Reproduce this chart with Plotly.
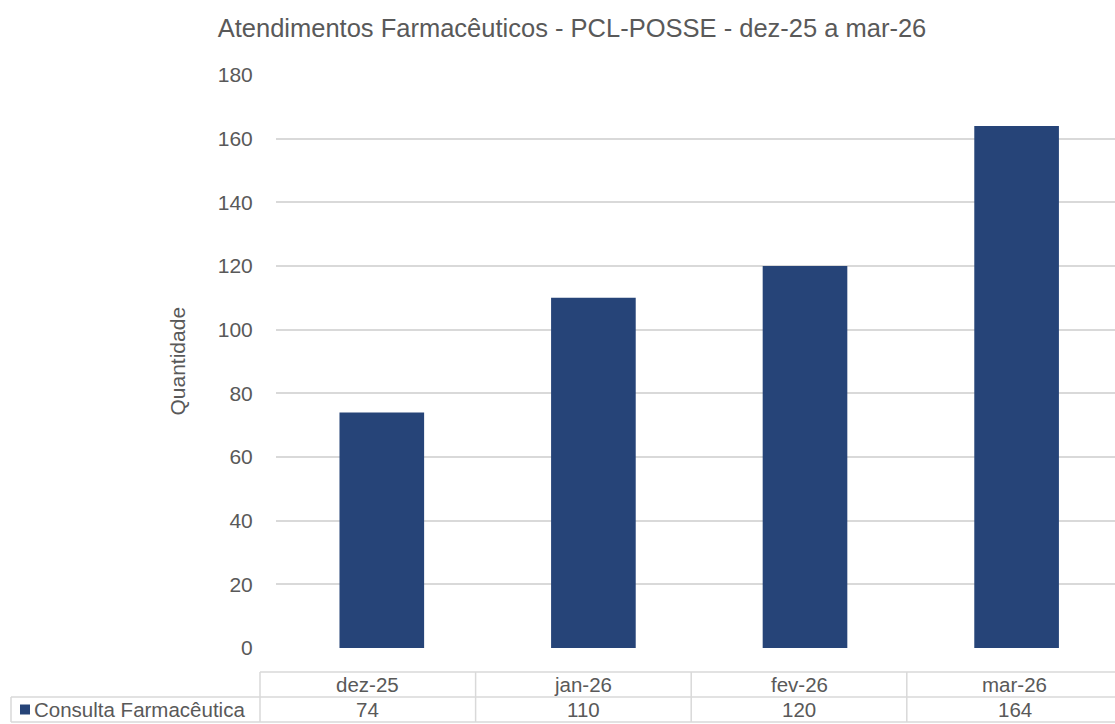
import plotly.graph_objects as go

# Monthly pharmaceutical consultations
categories = ["dez-25", "jan-26", "fev-26", "mar-26"]
series_name = "Consulta Farmacêutica"
values = [74, 110, 120, 164]
y_ticks = [0, 20, 40, 60, 80, 100, 120, 140, 160, 180]

W, H = 1115, 724
LEFT, RIGHT, TOP, BOTTOM = 276, 0, 75, 76
CAT_W = 211.6  # pixel width of one category slot
plot_w = W - LEFT - RIGHT
x_range = [-0.5, -0.5 + plot_w / CAT_W]

BAR = "#264478"
TXT = "#595959"
GRID = "#d9d9d9"
FONT = "Liberation Sans, Arial, sans-serif"
TICK_SIZE = 21
TABLE_SIZE = 20.5


def px_to_paper(px):
    return (px - LEFT) / plot_w


def cat_to_paper(v):
    return (v - x_range[0]) / (x_range[1] - x_range[0])


fig = go.Figure(
    go.Bar(
        x=list(range(len(categories))),
        y=values,
        marker=dict(color=BAR, line=dict(width=0)),
        width=0.4,
        name=series_name,
        showlegend=False,
    )
)

shapes = []


def hline(y_off, x0_paper, x1_paper):
    shapes.append(dict(type="line", xref="paper", yref="paper", ysizemode="pixel",
                       yanchor=0, y0=y_off, y1=y_off, x0=x0_paper, x1=x1_paper,
                       line=dict(color=GRID, width=1.5)))


def vline(x_paper, y_top, y_bot):
    shapes.append(dict(type="line", xref="paper", yref="paper", ysizemode="pixel",
                       yanchor=0, y0=y_top, y1=y_bot, x0=x_paper, x1=x_paper,
                       line=dict(color=GRID, width=1.5)))


# data table under the axis: spans from its left border to the plot's right end,
# split into equal columns, one per category
HDR_TOP, ROW_MID, ROW_BOT = -24, -49, -74
tab_left = px_to_paper(260)
leg_left = px_to_paper(11)
right_edge = cat_to_paper(len(categories) - 0.5)
col_w = (right_edge - tab_left) / len(categories)
col_center = [tab_left + col_w * (i + 0.5) for i in range(len(categories))]

hline(HDR_TOP, tab_left, right_edge)
hline(ROW_MID, leg_left, right_edge)
hline(ROW_BOT, leg_left, right_edge)
vline(tab_left, HDR_TOP, ROW_BOT)
vline(leg_left, ROW_MID, ROW_BOT)
for i in range(1, len(categories)):
    vline(tab_left + col_w * i, HDR_TOP, ROW_BOT)

# legend key square
shapes.append(dict(type="rect", xref="paper", yref="paper", ysizemode="pixel",
                   xsizemode="pixel", xanchor=px_to_paper(25), yanchor=0,
                   x0=-5, x1=5, y0=-56.5, y1=-66.5,
                   fillcolor=BAR, line=dict(width=0)))

annotations = []
for cx, c, v in zip(col_center, categories, values):
    annotations.append(dict(x=cx, xref="paper", y=0, yref="paper", yshift=-36.5,
                            text=c, showarrow=False, xanchor="center", yanchor="middle",
                            font=dict(size=TABLE_SIZE, color=TXT, family=FONT)))
    annotations.append(dict(x=cx, xref="paper", y=0, yref="paper", yshift=-61.5,
                            text=str(v), showarrow=False, xanchor="center", yanchor="middle",
                            font=dict(size=TABLE_SIZE, color=TXT, family=FONT)))
annotations.append(dict(x=px_to_paper(32), xref="paper", y=0, yref="paper", yshift=-61.5,
                        text=series_name, showarrow=False, xanchor="left", yanchor="middle",
                        font=dict(size=TABLE_SIZE, color=TXT, family=FONT)))
annotations.append(dict(x=px_to_paper(177), xref="paper", y=0.5, yref="paper",
                        text="Quantidade", textangle=-90, showarrow=False,
                        xanchor="center", yanchor="middle",
                        font=dict(size=21, color=TXT, family=FONT)))

fig.update_layout(
    width=W, height=H,
    margin=dict(l=LEFT, r=RIGHT, t=TOP, b=BOTTOM, pad=0),
    paper_bgcolor="white", plot_bgcolor="white",
    title=dict(text="Atendimentos Farmacêuticos - PCL-POSSE - dez-25 a mar-26",
               x=572 / W, xanchor="center", y=1 - 28 / H, yanchor="middle",
               xref="container", yref="container",
               font=dict(size=25.5, color=TXT, family=FONT)),
    xaxis=dict(range=x_range, showticklabels=False, showgrid=False, zeroline=False,
               showline=False, ticks="", fixedrange=True),
    yaxis=dict(range=[0, 180], tickvals=y_ticks, ticktext=[str(t) for t in y_ticks],
               showgrid=True, gridcolor=GRID, gridwidth=1.5, zeroline=False,
               showline=False, ticks="outside", ticklen=18, tickcolor="rgba(0,0,0,0)",
               tickfont=dict(size=TICK_SIZE, color=TXT, family=FONT)),
    shapes=shapes,
    annotations=annotations,
    bargap=0.6,
)

fig.write_html("out.html")
